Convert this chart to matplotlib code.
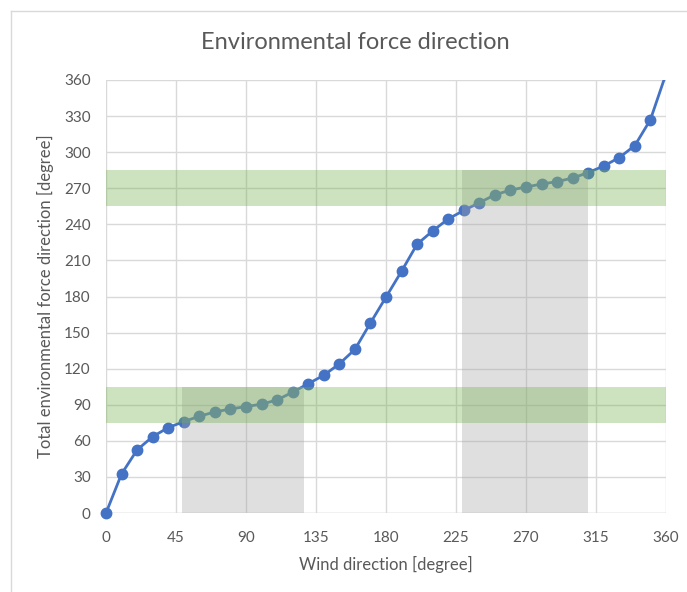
import matplotlib
matplotlib.use("Agg")
import matplotlib.pyplot as plt
from matplotlib import font_manager
from matplotlib.lines import Line2D

# pick a narrow sans if available, Calibri-like look
names = {f.name for f in font_manager.fontManager.ttflist}
family = "Liberation Sans Narrow" if "Liberation Sans Narrow" in names else "Lato"
plt.rcParams['font.family'] = [family, 'DejaVu Sans']

wind = [0, 10, 20, 30, 40, 50, 60, 70, 80, 90, 100, 110, 120, 130, 140, 150, 160, 170,
        180, 190, 200, 210, 220, 230, 240, 250, 260, 270, 280, 290, 300, 310, 320, 330,
        340, 350, 360]
force_dir = [0, 32.5, 52.5, 63.5, 71, 76, 80.5, 84, 86.5, 88.5, 90.5, 94, 100.5, 107.5,
             114.5, 124, 136, 158, 179.5, 201, 223.5, 234.5, 244.5, 251.5, 258, 264.5,
             268.5, 271, 273.5, 275.5, 278.5, 283, 288.5, 295.5, 305.5, 327, 365]

# acceptable force direction bands (target +/- 15)
bands = [(75, 105), (255, 285)]
# wind sectors that keep the force inside a band
sectors = [(49, 127, 105), (229, 310, 285)]

blue = '#4472C4'
grid_c = '#d9d9d9'
text_c = '#595959'

fig = plt.figure(figsize=(6.87, 5.92), dpi=100)
ax = fig.add_axes([0.1543, 0.1334, 0.8151, 0.7315])

ax.plot(wind, force_dir, color=blue, lw=2, zorder=3, solid_capstyle='round')
ax.plot(wind[:-1], force_dir[:-1], 'o', color=blue, ms=7.5, zorder=4, clip_on=False)

for x0, x1, top in sectors:
    ax.fill_between([x0, x1], 0, top, color='#A5A5A5', alpha=0.35, lw=0, zorder=5)
for y0, y1 in bands:
    ax.axhspan(y0, y1, color='#70AD47', alpha=0.35, lw=0, zorder=6)

ax.set_xlim(0, 360)
ax.set_ylim(0, 360)
ax.set_xticks(range(0, 361, 45))
ax.set_yticks(range(0, 361, 30))
ax.grid(True, color=grid_c, lw=1, zorder=1)
ax.set_axisbelow(True)
for s in ax.spines.values():
    s.set_visible(False)
ax.axhline(0, color=grid_c, lw=1, zorder=2)
ax.tick_params(length=0, labelsize=11, colors=text_c)
ax.tick_params(axis='x', pad=13)
ax.tick_params(axis='y', pad=11)

ax.set_xlabel('Wind direction [degree]', fontsize=12, color=text_c, labelpad=8)
ax.set_ylabel('Total environmental force direction [degree]', fontsize=12,
              color=text_c, labelpad=7)
fig.text(0.517, 0.929, 'Environmental force direction', ha='center', va='center',
         fontsize=17, color=text_c)

# chart border (left and top edges)
fig.add_artist(Line2D([11 / 687, 11 / 687], [0, 1 - 11 / 592], color=grid_c, lw=1))
fig.add_artist(Line2D([11 / 687, 1], [1 - 11 / 592, 1 - 11 / 592], color=grid_c, lw=1))

fig.savefig('out.png', dpi=100)
